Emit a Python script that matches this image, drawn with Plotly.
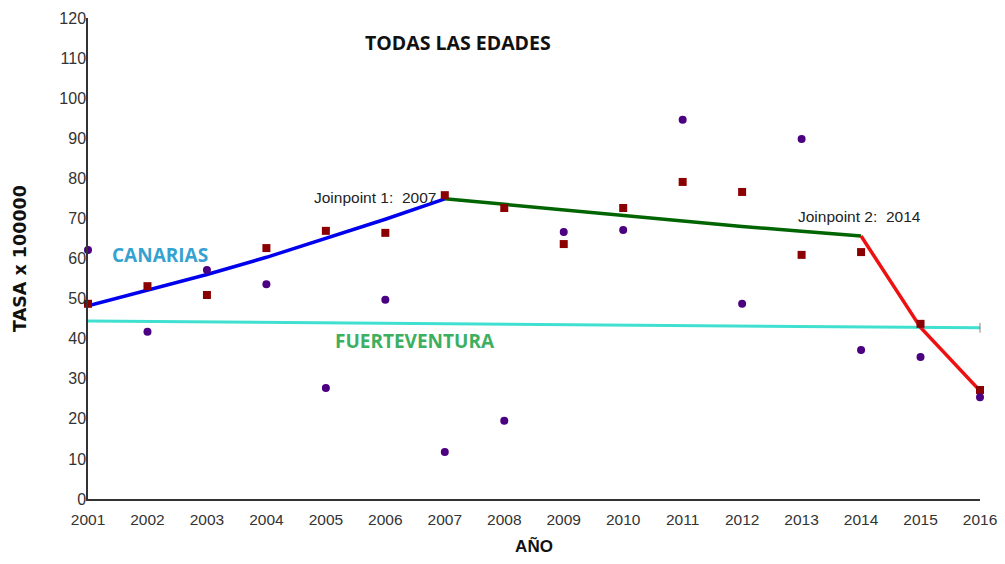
import plotly.graph_objects as go

years = list(range(2001, 2017))
fuerteventura_obs = [62.1, 41.7, 57.1, 53.6, 27.7, 49.7, 11.7, 19.5, 66.6, 67.1, 94.6, 48.7, 89.8, 37.2, 35.4, 25.4]
canarias_obs = [48.7, 53.1, 50.9, 62.6, 66.9, 66.4, 75.8, 72.6, 63.6, 72.6, 79.1, 76.6, 60.9, 61.6, 43.7, 27.2]

seg1_years = [2001, 2002, 2003, 2004, 2005, 2006, 2007]
seg1_vals = [48.2, 52.0, 56.0, 60.3, 65.0, 69.8, 74.9]
seg2_years = [2007, 2008, 2009, 2010, 2011, 2012, 2013, 2014]
seg2_vals = [74.9, 73.5, 72.1, 70.7, 69.3, 68.0, 66.8, 65.6]
seg3_years = [2014, 2015, 2016]
seg3_vals = [65.6, 42.8, 27.0]
fv_fit_years = [2001, 2016]
fv_fit_vals = [44.4, 42.7]

y_ticks = list(range(0, 121, 10))

fig = go.Figure()
fig.add_trace(go.Scatter(x=fv_fit_years, y=fv_fit_vals, mode="lines+markers",
                         line=dict(color="#40e0d0", width=3),
                         marker=dict(symbol="line-ns-open", size=[0, 7], color="#555",
                                     line=dict(width=1, color="#555")),
                         cliponaxis=False))
fig.add_trace(go.Scatter(x=seg1_years, y=seg1_vals, mode="lines",
                         line=dict(color="#0000ee", width=3.5), cliponaxis=False))
fig.add_trace(go.Scatter(x=seg2_years, y=seg2_vals, mode="lines",
                         line=dict(color="#006400", width=3.5), cliponaxis=False))
fig.add_trace(go.Scatter(x=seg3_years, y=seg3_vals, mode="lines",
                         line=dict(color="#ee1111", width=3.5), cliponaxis=False))
fig.add_trace(go.Scatter(x=years, y=canarias_obs, mode="markers",
                         marker=dict(symbol="square", size=8, color="#8b0000"), cliponaxis=False))
fig.add_trace(go.Scatter(x=years, y=fuerteventura_obs, mode="markers",
                         marker=dict(symbol="circle", size=8, color="#4b0082"), cliponaxis=False))

ann_font = dict(family="Liberation Sans, Arial, sans-serif", size=15.5, color="#222")
fig.add_annotation(x=2005.83, y=75.3, text="Joinpoint 1:  2007", showarrow=False, font=ann_font)
fig.add_annotation(x=2013.98, y=70.6, text="Joinpoint 2:  2014", showarrow=False, font=ann_font)
fig.add_annotation(x=2002.21, y=60.9, text="<b>CANARIAS</b>", showarrow=False,
                   font=dict(family="Open Sans, sans-serif", size=19, color="#36a2cf"))
fig.add_annotation(x=2006.5, y=39.4, text="<b>FUERTEVENTURA</b>", showarrow=False,
                   font=dict(family="Open Sans, sans-serif", size=19, color="#3cb060"))
fig.add_annotation(x=2007.22, y=114, text="<b>TODAS LAS EDADES</b>", showarrow=False,
                   font=dict(family="Open Sans, sans-serif", size=19.5, color="#111"))

fig.update_layout(
    width=989, height=548,
    margin=dict(l=80, r=17, t=10, b=57, autoexpand=False),
    paper_bgcolor="white", plot_bgcolor="white",
    showlegend=False,
    font=dict(family="Liberation Sans, Arial, sans-serif", size=16, color="#333"),
)
fig.update_xaxes(range=[2001, 2016], tickmode="array", tickvals=years,
                 ticktext=[str(y) for y in years], showgrid=False, zeroline=False,
                 showline=True, linecolor="#333", linewidth=1.5, ticks="",
                 ticklabelstandoff=6, ticklabeloverflow="allow", automargin=False,
                 tickfont=dict(size=15.5),
                 title=dict(text="<b>AÑO</b>", font=dict(size=17, color="#111"), standoff=16))
fig.update_yaxes(range=[0, 120], tickmode="array", tickvals=y_ticks, showgrid=False,
                 zeroline=False, showline=True, linecolor="#333", linewidth=1.5, ticks="",
                 ticklabelstandoff=-3, automargin=False,
                 title=dict(text="<b>TASA x 100000</b>",
                            font=dict(family="DejaVu Sans, sans-serif", size=17.5, color="#111"),
                            standoff=28))

fig.write_html("out.html")
